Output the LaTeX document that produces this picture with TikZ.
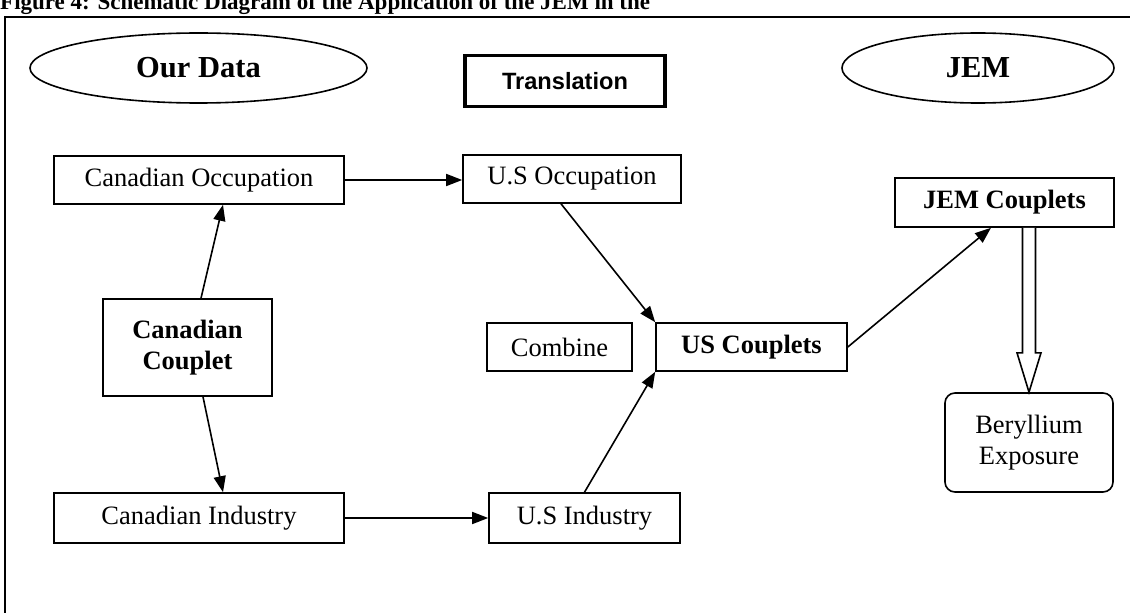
\documentclass[tikz,border=0pt]{standalone}
\usepackage{fontspec}
\setmainfont{Liberation Serif}
\newfontfamily\arialf{Liberation Sans}
\usetikzlibrary{arrows.meta,calc,shapes.geometric}
\begin{document}
\begin{tikzpicture}[x=1bp,y=-1bp,
  txt/.style={font=\fontsize{26.5bp}{31bp}\selectfont},
  btxt/.style={font=\fontsize{26.5bp}{31bp}\selectfont\bfseries},
  box/.style={draw,line width=1.6bp,inner sep=0pt,align=center},
  oval/.style={draw,ellipse,line width=1.6bp,inner sep=0pt,font=\fontsize{30.5bp}{34bp}\selectfont\bfseries},
  arr/.style={line width=1.6bp,-{Triangle[length=16bp,width=12bp]}},
  hollow/.style={draw,line width=1.6bp,fill=white,line join=miter}
]
\useasboundingbox (0,0) rectangle (1130,613);
\fill[white] (0,0) rectangle (1130,613);
% caption, cut at the top edge as in the reference
\begin{scope}
  \clip (0,0) rectangle (1130,16);
  \node[anchor=base west,inner sep=0pt,font=\fontsize{23bp}{26bp}\selectfont\bfseries] (cap) at (0,10)
    {Figure 4: Schematic Diagram of the Application of the JEM in the};
\end{scope}
% frame
\draw[line width=1.6bp] (5,640) -- (5,17) -- (1150,17);

% header nodes
\node[oval,minimum width=337bp,minimum height=70bp] (ourdata) at (198.5,68) {Our Data};
\node[oval,minimum width=272bp,minimum height=70bp] (jem) at (978,68) {JEM};
\node[box,line width=3.2bp,minimum width=200bp,minimum height=51bp,font=\arialf\fontsize{23.6bp}{27bp}\selectfont\bfseries] (trans) at (565,81) {Translation};

% main boxes
\node[box,txt,minimum width=290bp,minimum height=48bp] (co) at (199,180) {Canadian Occupation};
\node[box,txt,minimum width=218bp,minimum height=48bp] (uso) at (572,179) {U.S Occupation};
\node[box,btxt,minimum width=219bp,minimum height=49bp] (jemc) at (1004.5,202.5) {JEM Couplets};
\node[box,btxt,minimum width=169bp,minimum height=97bp] (cc) at (187.5,347.5) {Canadian\\Couplet};
\node[box,txt,minimum width=145bp,minimum height=48bp] (comb) at (559.5,347) {Combine};
\node[box,btxt,minimum width=191bp,minimum height=48bp] (usc) at (751.5,347) {US Couplets};
\node[box,txt,rounded corners=10bp,minimum width=168bp,minimum height=99bp] (ber) at (1029,442.5) {Beryllium\\Exposure};
\node[box,txt,minimum width=290bp,minimum height=50bp] (ci) at (199,518) {Canadian Industry};
\node[box,txt,minimum width=191bp,minimum height=50bp] (usi) at (584.5,518) {U.S Industry};

% connectors
\draw[arr] (co.east) -- (uso.west |- co.east);
\draw[arr] (ci.east) -- (usi.west |- ci.east);
\draw[arr] ($(cc.north)+(13.5,0)$) -- ($(co.south)+(24,0)$);
\draw[arr] ($(cc.south)+(15.5,0)$) -- ($(ci.north)+(24,0)$);
\draw[arr] ($(uso.south)+(-11,0)$) -- (usc.north west);
\draw[arr] (usi.north) -- (usc.south west);
\draw[arr] (usc.east) -- ($(jemc.south)+(-13.5,0)$);

% hollow block arrow JEM Couplets -> Beryllium
\coordinate (ha) at (ber.north |- jemc.south);
\draw[hollow] ($(ha)+(-6.5,0)$) -- ($(ha)+(-6.5,125)$) -- ($(ha)+(-12,125)$)
  -- (ber.north) -- ($(ha)+(12,125)$) -- ($(ha)+(6.5,125)$) -- ($(ha)+(6.5,0)$);
\end{tikzpicture}
\end{document}
